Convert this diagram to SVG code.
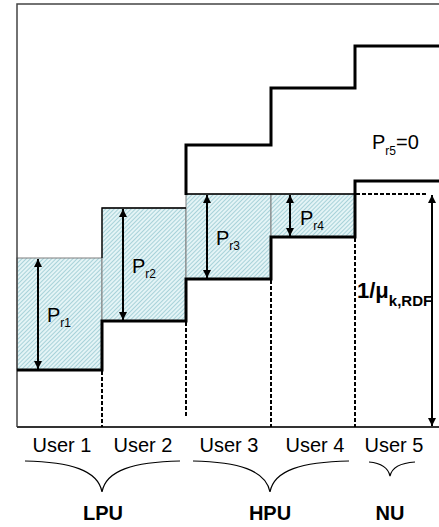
<svg xmlns="http://www.w3.org/2000/svg" width="439" height="527" viewBox="0 0 439 527">
<defs>
<pattern id="hatch" width="3" height="3" patternUnits="userSpaceOnUse" patternTransform="rotate(45)">
<rect width="3" height="3" fill="#e4f4f6"/>
<line x1="0.5" y1="0" x2="0.5" y2="3" stroke="#a8d2d9" stroke-width="1"/>
</pattern>
<marker id="ah" viewBox="0 0 10 10" refX="10" refY="5" markerWidth="8" markerHeight="8" markerUnits="userSpaceOnUse" orient="auto-start-reverse">
<path d="M0,0 L10,5 L0,10 z" fill="#000"/>
</marker>
</defs>
<style>
.shade{fill:url(#hatch);stroke:#7f7f7f;stroke-width:1}
.bold{fill:none;stroke:#000;stroke-width:3}
.thin{fill:none;stroke:#000;stroke-width:1.3}
.dash{fill:none;stroke:#000;stroke-width:2;stroke-dasharray:4,2}
.arr{fill:none;stroke:#000;stroke-width:2;marker-start:url(#ah);marker-end:url(#ah)}
.brace{fill:none;stroke:#000;stroke-width:1.2}
.lbl{font-family:"Liberation Sans",Arial,sans-serif;fill:#000}
.usr{font-family:"Liberation Sans",Arial,sans-serif;font-size:20px;text-anchor:middle;fill:#000}
.grp{font-family:"Liberation Sans",Arial,sans-serif;font-size:20px;font-weight:bold;text-anchor:middle;fill:#000}
</style>
<rect width="439" height="527" fill="#fff"/>
<g id="user1"><rect class="shade" x="17" y="258" width="85" height="112"/></g>
<g id="user2"><rect class="shade" x="102" y="208" width="84" height="113"/></g>
<g id="user3"><rect class="shade" x="186" y="194" width="85" height="85"/></g>
<g id="user4"><rect class="shade" x="271" y="194" width="84" height="43"/></g>
<g id="frame">
<path d="M17,427 V4 H439" fill="none" stroke="#444" stroke-width="1.5"/>
<path d="M17,427 H439" fill="none" stroke="#333" stroke-width="1.8"/>
</g>
<g id="connectors">
<path class="thin" d="M102,258 V208 H186"/>
<path class="thin" d="M186,194 H355"/>
<path class="bold" d="M186,195 V145 H271 V88 H355 V46 H439"/>
<path class="bold" d="M17,370 H102 V321 H186 V279 H271 V237 H355 V181 H439"/>
<path class="dash" d="M102,371 V427"/>
<path class="dash" d="M186,322 V417"/>
<path class="dash" d="M271,280 V427"/>
<path class="dash" d="M355,238 V427"/>
<path class="dash" d="M356,194 H428"/>
<path class="arr" d="M38,259 V369"/>
<path class="arr" d="M123,209 V320"/>
<path class="arr" d="M207,195 V278"/>
<path class="arr" d="M290,195 V236"/>
</g>
<g id="labels">
<text class="lbl" x="47" y="322" font-size="20">P<tspan font-size="12" dy="5">r1</tspan></text>
<text class="lbl" x="132" y="273" font-size="20">P<tspan font-size="12" dy="5">r2</tspan></text>
<text class="lbl" x="216" y="245" font-size="20">P<tspan font-size="12" dy="5">r3</tspan></text>
<text class="lbl" x="300" y="225" font-size="20">P<tspan font-size="12" dy="5">r4</tspan></text>
<text class="lbl" x="372" y="149" font-size="20">P<tspan font-size="12" dy="6">r5</tspan><tspan dy="-6">=0</tspan></text>
<text class="lbl" x="357" y="298" font-size="22" font-weight="bold">1/μ<tspan font-size="15" dy="8">k,RDF</tspan></text>
</g>
<g id="rdf-arrow"><path class="arr" d="M432,195 V426"/></g>
<g id="users">
<text class="usr" x="62" y="452">User 1</text>
<text class="usr" x="143" y="452">User 2</text>
<text class="usr" x="229" y="452">User 3</text>
<text class="usr" x="315" y="452">User 4</text>
<text class="usr" x="394" y="452">User 5</text>
</g>
<g id="lpu">
<path class="brace" d="M25,461 C70,462 98,470 102,492 C106,470 134,462 180,461"/>
<text class="grp" x="103" y="520">LPU</text>
</g>
<g id="hpu">
<path class="brace" d="M193,461 C238,462 266,470 270,492 C274,470 302,462 349,461"/>
<text class="grp" x="270" y="520">HPU</text>
</g>
<g id="nu">
<path class="brace" d="M369,462 C380,463 388,467 390,476 C392,467 400,463 415,462"/>
<text class="grp" x="390" y="520">NU</text>
</g>
</svg>
